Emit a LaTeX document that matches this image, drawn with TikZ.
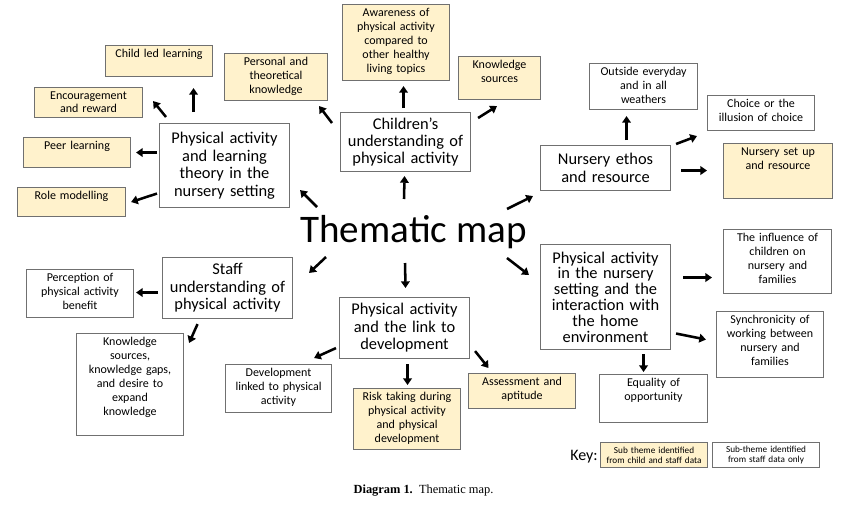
\documentclass[tikz,border=0pt]{standalone}
\usepackage{fontspec}
\setmainfont{Carlito}
\newfontfamily\captionfont{Liberation Serif}
\usetikzlibrary{arrows.meta,calc}
\definecolor{subyellow}{RGB}{255,242,204}
\definecolor{boxgray}{RGB}{112,112,112}

\begin{document}
\begin{tikzpicture}[x=0.75pt,y=0.75pt,
	subbox/.style={draw=boxgray, line width=0.8pt, anchor=north west, align=center, inner xsep=1.5pt, inner ysep=2.25pt, text height=7pt, font=\fontsize{9}{10.5}\selectfont},
	both/.style={subbox, fill=subyellow},
	staffonly/.style={subbox, fill=white},
	theme/.style={draw=boxgray, line width=0.8pt, anchor=north west, align=center, inner sep=2pt, text width=93.5pt, minimum width=97.5pt, font=\fontsize{12.3}{13.1}\selectfont},
	keybox/.style={draw=boxgray, line width=0.8pt, anchor=north west, align=center, inner sep=1.5pt, text width=77.25pt, minimum height=18.75pt, font=\fontsize{6.9}{7.4}\selectfont},
	link/.style={-{Triangle[length=5pt,width=6.5pt]}, line width=1.9pt}]
	\useasboundingbox (0,0) rectangle (850,-504);

	\node[anchor=base, inner sep=0pt, font=\fontsize{29.3}{32}\selectfont] (map) at (413.5,-242) {Thematic map};

	\node[theme, minimum height=63pt] (learn) at (159,-123) {Physical activity\\and learning\\theory in the\\nursery setting};
	\node[theme, minimum height=44.25pt] (child) at (340,-112) {Children’s\\understanding of\\physical activity};
	\node[theme, minimum height=33.75pt] (ethos) at (540,-145) {Nursery ethos\\and resource};
	\node[theme, minimum height=45.75pt] (staff) at (162,-257) {Staff\\understanding of\\physical activity};
	\node[theme, minimum height=45.75pt] (dev) at (339,-297) {Physical activity\\and the link to\\development};
	\node[theme, minimum height=78.75pt, font=\fontsize{12.3}{11.9}\selectfont] (home) at (540,-244) {Physical activity\\in the nursery\\setting and the\\interaction with\\the home\\environment};

	\node[both, text width=77.25pt, text depth=11.75pt] (childled) at (105,-45) {Child led learning};
	\node[both, text width=78pt, text depth=11pt, font=\fontsize{9}{9.8}\selectfont] (encour) at (34,-87) {Encouragement\\and reward};
	\node[both, text width=77.25pt, text depth=11pt] (peer) at (23,-137) {Peer learning};
	\node[both, text width=78pt, text depth=10.25pt] (role) at (17,-187) {Role modelling};
	\node[both, text width=74.25pt, text depth=23.75pt] (personal) at (224,-53) {Personal and\\theoretical\\knowledge};
	\node[both, text width=77.25pt, text depth=45.5pt] (aware) at (342,-4) {Awareness of\\physical activity\\compared to\\other healthy\\living topics};
	\node[both, text width=58.5pt, text depth=20.75pt] (ksrc) at (458,-56) {Knowledge\\sources};
	\node[both, text width=78.75pt, text depth=29.75pt] (setup) at (723,-143) {Nursery set up\\and resource};
	\node[both, text width=77.25pt, text depth=34.25pt] (risk) at (353,-388) {Risk taking during\\physical activity\\and physical\\development};
	\node[both, text width=77.25pt, text depth=14.75pt] (assess) at (468,-373) {Assessment and\\aptitude};

	\node[staffonly, text width=78pt, text depth=23pt] (outside) at (589,-63) {Outside everyday\\and in all\\weathers};
	\node[staffonly, text width=77.25pt, text depth=14.75pt] (choice) at (707,-95) {Choice or the\\illusion of choice};
	\node[staffonly, text width=77.25pt, text depth=24.5pt] (percep) at (26,-269) {Perception of\\physical activity\\benefit};
	\node[staffonly, text width=77.25pt, text depth=65pt] (kgaps) at (76,-333) {Knowledge\\sources,\\knowledge gaps,\\and desire to\\expand\\knowledge};
	\node[staffonly, text width=76.5pt, text depth=24.5pt] (devlink) at (225,-364) {Development\\linked to physical\\activity};
	\node[staffonly, text width=78pt, text depth=36.5pt] (influence) at (723,-229) {The influence of\\children on\\nursery and\\families};
	\node[staffonly, text width=77.25pt, text depth=38pt] (sync) at (716,-311) {Synchronicity of\\working between\\nursery and\\families};
	\node[staffonly, text width=78pt, text depth=24.5pt] (equal) at (599,-374) {Equality of\\opportunity};

	\node[anchor=base west, inner sep=0pt, font=\fontsize{12}{14}\selectfont] (key) at (570,-460) {Key:};
	\node[keybox, fill=subyellow] (keyboth) at (600,-442) {Sub theme identified\\from child and staff data};
	\node[keybox, fill=white] (keystaff) at (712,-442) {Sub-theme identified\\from staff data only};

	\node[anchor=base, inner sep=0pt, font=\captionfont\fontsize{9.3}{11}\selectfont] (caption) at (423.5,-493) {\textbf{Diagram 1.}\ \ Thematic map.};

	\draw[link] ($(map.base)+(-96.5,35)$) -- ($(learn.south east)+(10,18)$);
	\draw[link] ($(map.base)+(-9.5,43)$) -- ($(child.south)+(-1,-4)$);
	\draw[link] ($(map.base)+(93.5,33)$) -- ($(ethos.south west)+(-7,-5)$);
	\draw[link] ($(map.base)+(-87.5,-15)$) -- ($(staff.north east)+(16,-16)$);
	\draw[link] ($(map.base)+(-8.5,-21)$) -- ($(dev.north)+(1,9)$);
	\draw[link] ($(map.base)+(93.5,-16)$) -- ($(home.north west)+(-11,-31)$);

	\draw[link] ($(learn.north)+(-31,11)$) -- ($(childled.south)+(34.5,-11)$);
	\draw[link] ($(learn.north west)+(7,6)$) -- ($(encour.south east)+(10,17)$);
	\draw[link] ($(learn.west)+(-2,13)$) -- ($(peer.east)+(5,0)$);
	\draw[link] ($(learn.west)+(-2,-28)$) -- ($(role.east)+(5,0)$);

	\draw[link] ($(child.north west)+(-8,-11)$) -- ($(personal.south east)+(-9,-5)$);
	\draw[link] ($(child.north)+(-2,4)$) -- ($(aware.south)+(7.5,-5)$);
	\draw[link] ($(child.north east)+(7,-6)$) -- ($(ksrc.south west)+(39,-6)$);

	\draw[link] ($(ethos.north)+(21,5)$) -- ($(outside.south)+(-17,-6)$);
	\draw[link] ($(ethos.north east)+(5,1)$) -- ($(choice.south west)+(-10,-5)$);
	\draw[link] ($(ethos.east)+(10,-2.5)$) -- ($(setup.west)+(-16,0.5)$);

	\draw[link] ($(staff.west)+(-4,-4.5)$) -- ($(percep.east)+(2,1)$);
	\draw[link] ($(staff.south)+(-30,-5)$) -- ($(kgaps.north east)+(5,-10)$);

	\draw[link] ($(dev.south west)+(-3,11)$) -- ($(devlink.north east)+(-18,6)$);
	\draw[link] ($(dev.south)+(3,-5)$) -- ($(risk.north)+(0.5,3)$);
	\draw[link] ($(dev.south east)+(5,8)$) -- ($(assess.north)+(-33.5,5)$);

	\draw[link] ($(home.east)+(12,19.5)$) -- ($(influence.west)+(-11,-16)$);
	\draw[link] ($(home.east)+(5,-36.5)$) -- ($(sync.west)+(-10,5)$);
	\draw[link] ($(home.south)+(38,-4)$) -- ($(equal.north)+(-10,2)$);
\end{tikzpicture}
\end{document}
